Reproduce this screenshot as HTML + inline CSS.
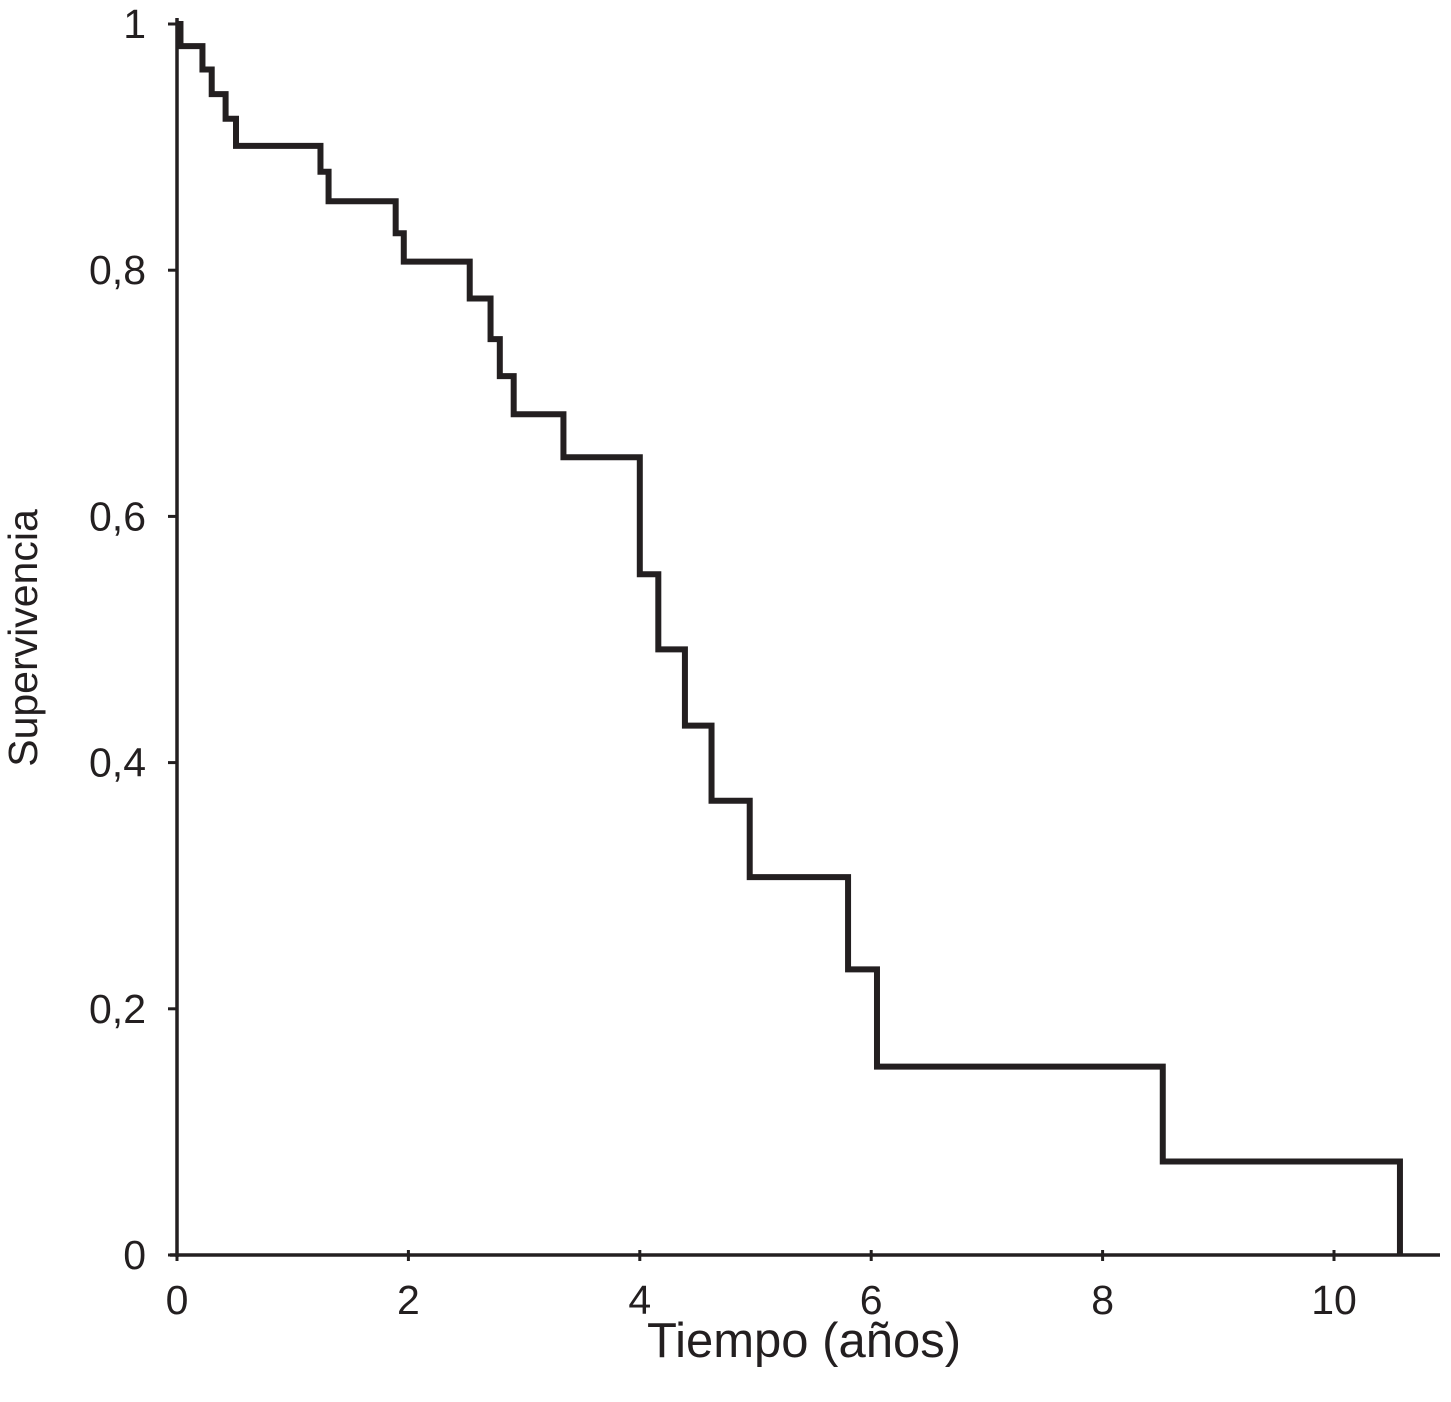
<!DOCTYPE html>
<html><head><meta charset="utf-8"><style>
html,body{margin:0;padding:0;background:#fff;}
svg{display:block;font-family:"Liberation Sans",Arial,sans-serif;}
</style></head><body>
<svg id="chart" width="1451" height="1402" viewBox="0 0 1451 1402" xmlns="http://www.w3.org/2000/svg">
<g id="axes"></g>
<g id="series"></g>
<text x="804" y="1357" font-size="49" text-anchor="middle" fill="#231f20">Tiempo (años)</text>
<text transform="translate(37,638) rotate(-90)" font-size="41" text-anchor="middle" fill="#231f20">Supervivencia</text>
</svg>
<script>
const stepTimes = [0, 0.03, 0.22, 0.30, 0.42, 0.51, 1.24, 1.31, 1.89, 1.96, 2.53, 2.71, 2.79, 2.91, 3.34, 4.00, 4.16, 4.39, 4.62, 4.95, 5.80, 6.05, 8.52, 10.57];
const stepSurvival = [1, 0.982, 0.963, 0.943, 0.923, 0.901, 0.880, 0.856, 0.830, 0.807, 0.777, 0.744, 0.714, 0.683, 0.648, 0.553, 0.492, 0.430, 0.369, 0.307, 0.232, 0.153, 0.076, 0];
const xTicks = [0, 2, 4, 6, 8, 10];
const xTickLabels = ["0", "2", "4", "6", "8", "10"];
const yTicks = [0, 0.2, 0.4, 0.6, 0.8, 1];
const yTickLabels = ["0", "0,2", "0,4", "0,6", "0,8", "1"];

const X0 = 177, XS = 115.7, Y0 = 1255, YS = 1231;
const xs = t => X0 + t * XS;
const ys = v => Y0 - v * YS;
const NS = "http://www.w3.org/2000/svg";
const axes = document.getElementById('axes');
const series = document.getElementById('series');
function mk(tag, attrs, parent){
  const e = document.createElementNS(NS, tag);
  for (const k in attrs) e.setAttribute(k, attrs[k]);
  parent.appendChild(e);
  return e;
}
let el = mk('line', {x1: X0, y1: 18, x2: X0, y2: Y0 + 2, stroke: '#231f20', 'stroke-width': 3.5}, axes);


el = mk('line', {x1: X0 - 7, y1: Y0, x2: 1440, y2: Y0, stroke: '#231f20', 'stroke-width': 3.5}, axes);


yTicks.forEach((v, i) => {
  const y = ys(v);
  let t = mk('line', {x1: X0 - 9, y1: y, x2: X0, y2: y, stroke: '#231f20', 'stroke-width': 3}, axes);
  
  
  let l = mk('text', {x: 146, y: y + 14, 'font-size': 41, 'text-anchor': 'end', fill: '#231f20'}, axes);
  l.textContent = yTickLabels[i];
  
  
});
xTicks.forEach((v, i) => {
  const x = xs(v);
  let t = mk('line', {x1: x, y1: Y0 - 5, x2: x, y2: Y0 + 6, stroke: '#231f20', 'stroke-width': 3}, axes);
  
  
  let l = mk('text', {x: x, y: 1314, 'font-size': 41, 'text-anchor': 'middle', fill: '#231f20'}, axes);
  l.textContent = xTickLabels[i];
  
  
});
let d = 'M' + xs(stepTimes[0]) + ' ' + ys(stepSurvival[0]);
for (let i = 1; i < stepTimes.length; i++) {
  d += ' H' + xs(stepTimes[i]) + ' V' + ys(stepSurvival[i]);
}
el = mk('path', {d: d, fill: 'none', stroke: '#231f20', 'stroke-width': 6, 'stroke-linejoin': 'miter'}, series);


</script>
</body></html>
